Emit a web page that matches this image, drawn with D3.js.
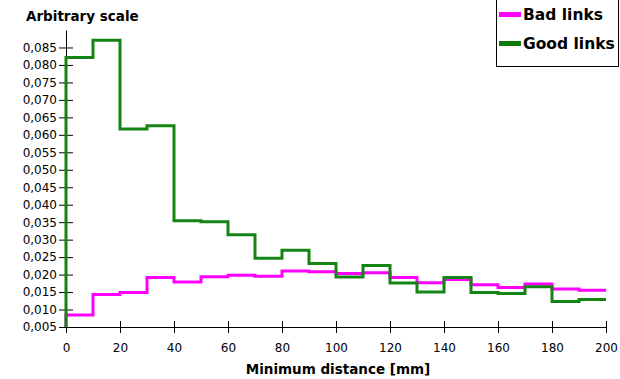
<!DOCTYPE html>
<html>
<head>
<meta charset="utf-8">
<script src="https://cdn.jsdelivr.net/npm/d3@7"></script>
<style>
  html, body { margin: 0; padding: 0; background: #fff; }
  svg { display: block; }
  text { font-family: "DejaVu Sans", Verdana, sans-serif; fill: #000; }
</style>
</head>
<body>
<svg id="chart" width="620" height="379"></svg>
<script>
// Histogram bin starts (mm), width 10 mm each
const binStarts = [0, 10, 20, 30, 40, 50, 60, 70, 80, 90, 100, 110, 120, 130, 140, 150, 160, 170, 180, 190];
const binWidth = 10;

// Normalised frequencies per bin
const goodLinks = [0.0821, 0.0871, 0.0617, 0.0626, 0.0354, 0.0351, 0.0314, 0.0247, 0.0270, 0.0232,
                   0.0193, 0.0226, 0.0176, 0.0150, 0.0192, 0.0149, 0.0146, 0.0165, 0.0123, 0.0129];
const badLinks  = [0.0084, 0.0143, 0.0149, 0.0192, 0.0179, 0.0194, 0.0198, 0.0195, 0.0210, 0.0208,
                   0.0203, 0.0205, 0.0192, 0.0177, 0.0186, 0.0171, 0.0163, 0.0173, 0.0159, 0.0155];

const xTicks = [0, 20, 40, 60, 80, 100, 120, 140, 160, 180, 200];
const yTicks = [0.005, 0.010, 0.015, 0.020, 0.025, 0.030, 0.035, 0.040, 0.045,
                0.050, 0.055, 0.060, 0.065, 0.070, 0.075, 0.080, 0.085];

const seriesNames = ["Bad links", "Good links"];
const seriesColors = ["#ff00ff", "#148414"];

const svg = d3.select("#chart");
const plotLeft = 66, plotRight = 606, plotTop = 30, plotBottom = 327;

const x = d3.scaleLinear().domain([0, 200]).range([plotLeft, plotRight]);
const y = d3.scaleLinear().domain([0.005, 0.090]).range([plotBottom, plotTop]);

const fmt = v => d3.format(".3f")(v).replace(".", ",");

// X axis (ticks crossing the line)
const xAxis = svg.append("g").attr("transform", `translate(0,${plotBottom})`)
  .call(d3.axisBottom(x).tickValues(xTicks).tickSizeInner(6).tickSizeOuter(0).tickPadding(8));
xAxis.select(".domain").attr("stroke", "#000");
xAxis.selectAll(".tick line").attr("y1", -6).attr("y2", 6).attr("stroke", "#000");
xAxis.selectAll(".tick text").attr("font-size", 12).attr("font-family", "DejaVu Sans").attr("dy", "0.95em");

// Y axis
const yAxis = svg.append("g").attr("transform", `translate(${plotLeft},0)`)
  .call(d3.axisLeft(y).tickValues(yTicks).tickFormat(fmt).tickSizeInner(7).tickSizeOuter(0).tickPadding(2));
yAxis.select(".domain").attr("stroke", "#000");
yAxis.selectAll(".tick line").attr("x1", -7).attr("x2", 7).attr("stroke", "#000");
yAxis.selectAll(".tick text").attr("font-size", 12).attr("font-family", "DejaVu Sans");

// Step lines
function stepPoints(vals) {
  const pts = [[0, 0.005]];
  binStarts.forEach((b, i) => pts.push([b, vals[i]]));
  pts.push([binStarts[binStarts.length - 1] + binWidth, vals[vals.length - 1]]);
  return pts;
}
const line = d3.line().x(d => x(d[0])).y(d => y(d[1])).curve(d3.curveStepAfter);

[badLinks, goodLinks].forEach((vals, i) => {
  svg.append("path")
    .attr("d", line(stepPoints(vals)))
    .attr("fill", "none")
    .attr("stroke", seriesColors[i])
    .attr("stroke-width", 3)
    .attr("stroke-linejoin", "miter");
});

// Titles
svg.append("text").attr("x", 26).attr("y", 21)
  .attr("font-size", 13.5).attr("font-weight", "bold").text("Arbitrary scale");
svg.append("text").attr("x", (plotLeft + plotRight) / 2 + 2).attr("y", 374)
  .attr("text-anchor", "middle").attr("font-size", 13.5).attr("font-weight", "bold")
  .text("Minimum distance [mm]");

// Legend
const legend = svg.append("g");
legend.append("rect").attr("x", 496.5).attr("y", -1).attr("width", 122).attr("height", 67.5)
  .attr("fill", "#fff").attr("stroke", "#000").attr("stroke-width", 1);
const legendColors = ["#ff00ff", "#0a7a0a"];
seriesNames.forEach((name, i) => {
  const cy = 14.5 + i * 29;
  legend.append("rect").attr("x", 499).attr("y", cy - 2.5).attr("width", 22).attr("height", 5)
    .attr("fill", legendColors[i]);
  legend.append("text").attr("x", 523).attr("y", cy + 5.5)
    .attr("font-size", 15.5).attr("font-weight", "bold").text(name);
});
</script>
</body>
</html>
